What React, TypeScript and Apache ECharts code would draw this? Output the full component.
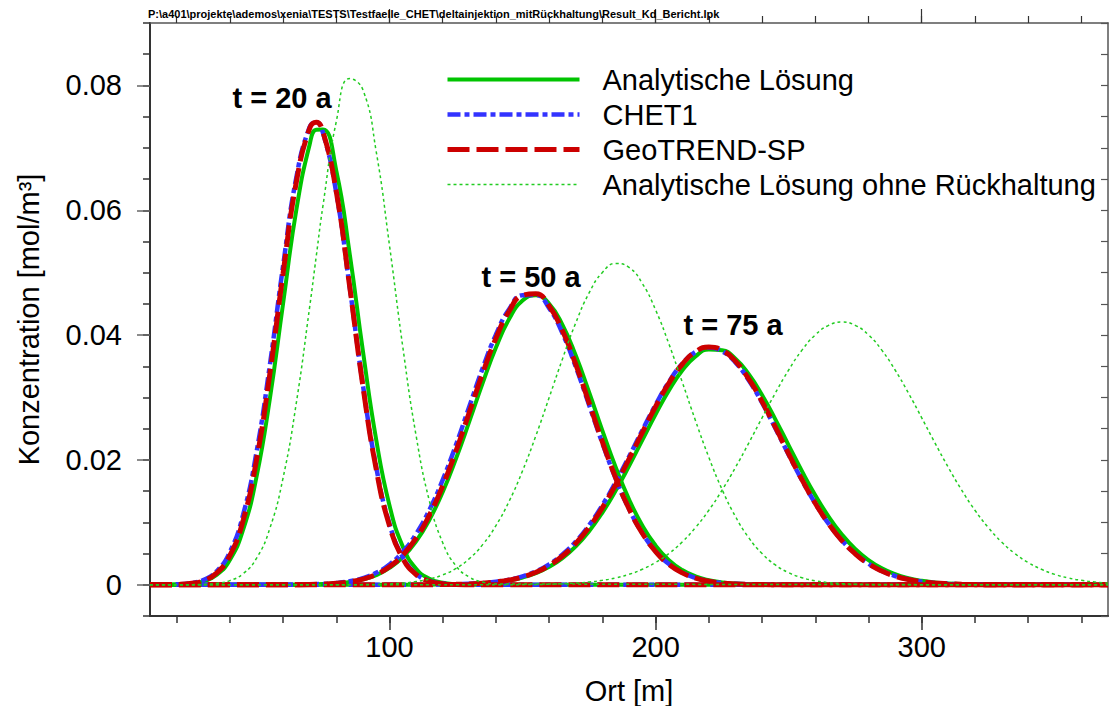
import React, { useEffect, useRef } from 'react';
import * as echarts from 'echarts';

// ---------- data ----------
const X20 = [10, 15, 20, 25, 30, 35, 40, 45, 50, 55, 60, 65, 70, 72.5, 75, 80, 85, 90, 95, 100, 105, 110, 115, 120, 125, 130, 135, 140, 370];
const analytic20 = [0, 0, 0.00005, 0.00017, 0.00055, 0.00157, 0.00397, 0.00882, 0.01725, 0.02971, 0.04503, 0.06008, 0.07055, 0.07289, 0.07293, 0.06636, 0.05315, 0.03747, 0.02326, 0.01271, 0.00611, 0.00258, 0.00096, 0.00032, 0.00009, 0.00002, 0, 0, 0];
const chet20 = [0, 0.00002, 0.00007, 0.00024, 0.00077, 0.00214, 0.00524, 0.01124, 0.02118, 0.03508, 0.05105, 0.06528, 0.07334, 0.07409, 0.0724, 0.06279, 0.04785, 0.03204, 0.01885, 0.00974, 0.00443, 0.00176, 0.00062, 0.00019, 0.00005, 0.00001, 0, 0, 0];
const geo20 = [0, 0.00001, 0.00005, 0.0002, 0.00064, 0.00186, 0.00468, 0.01032, 0.01994, 0.03369, 0.04985, 0.06454, 0.07315, 0.0741, 0.07257, 0.06301, 0.04789, 0.03186, 0.01855, 0.00946, 0.00422, 0.00165, 0.00056, 0.00017, 0.00004, 0.00001, 0, 0, 0];
const noRet20 = [0, 0, 0, 0.00002, 0.00007, 0.00022, 0.00067, 0.00178, 0.00422, 0.00899, 0.01711, 0.02918, 0.04451, 0.05272, 0.06075, 0.0742, 0.08109, 0.07931, 0.06941, 0.05436, 0.03809, 0.02389, 0.01341, 0.00673, 0.00302, 0.00122, 0.00044, 0.00014, 0];

const X50 = [10, 60, 65, 70, 75, 80, 85, 90, 95, 100, 105, 110, 115, 120, 125, 130, 135, 140, 145, 150, 155, 160, 165, 170, 175, 180, 185, 190, 195, 200, 205, 210, 215, 220, 225, 230, 235, 240, 245, 250, 255, 260, 265, 270, 275, 280, 370];
const analytic50 = [0, 0.00001, 0.00002, 0.00005, 0.00011, 0.00023, 0.00045, 0.00086, 0.00156, 0.0027, 0.00444, 0.00697, 0.01043, 0.01487, 0.02022, 0.02617, 0.03231, 0.03801, 0.04262, 0.04555, 0.04638, 0.04502, 0.04165, 0.03672, 0.03085, 0.02471, 0.01885, 0.01371, 0.0095, 0.00628, 0.00395, 0.00237, 0.00136, 0.00074, 0.00038, 0.00019, 0.00009, 0.00004, 0.00002, 0, 0, 0, 0, 0, 0, 0, 0];
const chet50 = [0, 0.00001, 0.00003, 0.00007, 0.00014, 0.00029, 0.00058, 0.00108, 0.00192, 0.00326, 0.00528, 0.00815, 0.01199, 0.01681, 0.02244, 0.02857, 0.03467, 0.04009, 0.04417, 0.0464, 0.04644, 0.0443, 0.04028, 0.0349, 0.02882, 0.02268, 0.01701, 0.01216, 0.00829, 0.00538, 0.00333, 0.00197, 0.0011, 0.00059, 0.0003, 0.00015, 0.00007, 0.00003, 0.00001, 0, 0, 0, 0, 0, 0, 0, 0];
const geo50 = [0, 0.00001, 0.00002, 0.00005, 0.00011, 0.00024, 0.00048, 0.00092, 0.00167, 0.00289, 0.00476, 0.00747, 0.01116, 0.01586, 0.02145, 0.02763, 0.03386, 0.0395, 0.04387, 0.04636, 0.04663, 0.04465, 0.04069, 0.0353, 0.02914, 0.0229, 0.01713, 0.0122, 0.00826, 0.00533, 0.00327, 0.00191, 0.00106, 0.00056, 0.00028, 0.00014, 0.00006, 0.00003, 0.00001, 0, 0, 0, 0, 0, 0, 0, 0];
const noRet50 = [0, 0, 0, 0, 0, 0.00001, 0.00001, 0.00003, 0.00007, 0.00014, 0.00027, 0.00051, 0.00091, 0.00158, 0.00262, 0.00419, 0.00643, 0.00948, 0.01342, 0.01826, 0.02388, 0.02999, 0.03619, 0.04196, 0.04675, 0.05004, 0.05146, 0.05085, 0.04827, 0.04403, 0.03858, 0.03249, 0.02628, 0.02042, 0.01525, 0.01094, 0.00754, 0.005, 0.00318, 0.00194, 0.00114, 0.00064, 0.00035, 0.00018, 0.00009, 0.00004, 0];

const X75 = [10, 110, 115, 120, 125, 130, 135, 140, 145, 150, 155, 160, 165, 170, 175, 180, 185, 190, 195, 200, 205, 210, 215, 220, 225, 230, 235, 240, 245, 250, 255, 260, 265, 270, 275, 280, 285, 290, 295, 300, 305, 310, 315, 320, 325, 330, 335, 340, 345, 350, 355, 360, 365, 370];
const analytic75 = [0, 0.00001, 0.00002, 0.00004, 0.00007, 0.00013, 0.00024, 0.00042, 0.00071, 0.00117, 0.00186, 0.00287, 0.00428, 0.00616, 0.00859, 0.01157, 0.01509, 0.01902, 0.02318, 0.02732, 0.03114, 0.03432, 0.03658, 0.0377, 0.03757, 0.03621, 0.03375, 0.03041, 0.02651, 0.02234, 0.0182, 0.01435, 0.01094, 0.00806, 0.00574, 0.00396, 0.00264, 0.0017, 0.00106, 0.00064, 0.00037, 0.00021, 0.00011, 0.00006, 0.00003, 0.00002, 0.00001, 0, 0, 0, 0, 0, 0, 0];
const chet75 = [0, 0.00001, 0.00002, 0.00004, 0.00008, 0.00016, 0.00028, 0.00049, 0.00083, 0.00136, 0.00215, 0.00328, 0.00485, 0.00692, 0.00955, 0.01275, 0.01645, 0.02052, 0.02474, 0.02884, 0.03251, 0.03542, 0.03731, 0.038, 0.03741, 0.03561, 0.03277, 0.02916, 0.02508, 0.02085, 0.01676, 0.01303, 0.00979, 0.00711, 0.00499, 0.00339, 0.00223, 0.00141, 0.00087, 0.00051, 0.00029, 0.00016, 0.00009, 0.00005, 0.00002, 0.00001, 0, 0, 0, 0, 0, 0, 0, 0];
const geo75 = [0, 0.00001, 0.00002, 0.00004, 0.00007, 0.00014, 0.00025, 0.00045, 0.00076, 0.00126, 0.00201, 0.00309, 0.00461, 0.00663, 0.00921, 0.01237, 0.01605, 0.02013, 0.02439, 0.02856, 0.03231, 0.03533, 0.03732, 0.03809, 0.03757, 0.03581, 0.03298, 0.02935, 0.02524, 0.02097, 0.01684, 0.01306, 0.0098, 0.00709, 0.00497, 0.00336, 0.0022, 0.00139, 0.00085, 0.0005, 0.00028, 0.00016, 0.00008, 0.00004, 0.00002, 0.00001, 0, 0, 0, 0, 0, 0, 0, 0];
const noRet75 = [0, 0, 0, 0, 0, 0, 0, 0.00001, 0.00002, 0.00003, 0.00005, 0.00009, 0.00016, 0.00027, 0.00045, 0.00071, 0.0011, 0.00167, 0.00248, 0.00357, 0.00501, 0.00686, 0.00917, 0.01194, 0.01518, 0.0188, 0.02271, 0.02675, 0.03072, 0.03441, 0.03759, 0.04003, 0.04157, 0.0421, 0.04157, 0.04003, 0.03759, 0.03441, 0.03072, 0.02675, 0.02271, 0.0188, 0.01518, 0.01194, 0.00917, 0.00686, 0.00501, 0.00357, 0.00248, 0.00167, 0.0011, 0.00071, 0.00045, 0.00027];

const seriesNames = ['Analytische Lösung', 'CHET1', 'GeoTREND-SP', 'Analytische Lösung ohne Rückhaltung'];
const timeLabels = ['t = 20 a', 't = 50 a', 't = 75 a'];

const xMinorTicks = [20, 40, 60, 80, 100, 120, 140, 160, 180, 200, 220, 240, 260, 280, 300, 320, 340, 360];
const xMajorTicks = [100, 200, 300];
const yMinorTicks = [-0.005, 0, 0.005, 0.01, 0.015, 0.02, 0.025, 0.03, 0.035, 0.04, 0.045, 0.05, 0.055, 0.06, 0.065, 0.07, 0.075, 0.08, 0.085, 0.09];
const yMajorTicks = [0, 0.02, 0.04, 0.06, 0.08];

const titleText = 'P:\\a401\\projekte\\ademos\\xenia\\TESTS\\Testfaelle_CHET\\deltainjektion_mitRückhaltung\\Result_Kd_Bericht.lpk';

// ---------- styling ----------
const FONT = '"Liberation Sans", Arial, Helvetica, sans-serif';
const AXIS_DARK = '#333333';
const AXIS_LIGHT = '#555555';

const styles = [
  { color: '#00c400', width: 4, type: 'solid' as any },
  { color: '#3333ff', width: 4.5, type: [13, 4, 5, 4] as any },
  { color: '#cc0000', width: 5, type: [22, 7] as any },
  { color: '#22cc22', width: 1.5, type: [3, 3] as any },
];

const groups = [
  [[X20, analytic20], [X50, analytic50], [X75, analytic75]],
  [[X20, chet20], [X50, chet50], [X75, chet75]],
  [[X20, geo20], [X50, geo50], [X75, geo75]],
  [[X20, noRet20], [X50, noRet50], [X75, noRet75]],
];

function buildOption() {
  const series: any[] = [];
  groups.forEach((sets, gi) => {
    sets.forEach(([xs, ys]) => {
      series.push({
        type: 'line',
        name: seriesNames[gi],
        xAxisIndex: 0,
        yAxisIndex: 0,
        data: (xs as number[]).map((x, i) => [x, (ys as number[])[i]]),
        showSymbol: false,
        symbol: 'none',
        smooth: 0.5,
        silent: true,
        lineStyle: { color: styles[gi].color, width: styles[gi].width, type: styles[gi].type },
        itemStyle: { color: styles[gi].color },
        emphasis: { disabled: true },
        z: 2 + gi,
      });
    });
  });

  const baseX: any = {
    type: 'value', min: 10, max: 370,
    splitLine: { show: false },
    axisLine: { show: false, onZero: false },
    axisLabel: { show: false },
    axisTick: { show: false },
  };
  const baseY: any = {
    type: 'value', min: -0.005, max: 0.09,
    splitLine: { show: false },
    axisLine: { show: false, onZero: false },
    axisLabel: { show: false },
    axisTick: { show: false },
  };

  const annPos = [[282, 98], [531, 277], [733, 325]];

  return {
    animation: false,
    backgroundColor: '#ffffff',
    title: {
      text: titleText,
      left: 148, top: 8,
      padding: 0,
      textStyle: { fontSize: 11, fontWeight: 'bold', color: '#000', fontFamily: FONT },
    },
    legend: {
      data: seriesNames.map((n, i) => ({
        name: n,
        lineStyle: { color: styles[i].color, width: styles[i].width, type: styles[i].type },
        itemStyle: { opacity: 0 },
      })),
      orient: 'vertical',
      left: 445, top: 65,
      padding: 0,
      itemWidth: 132, itemHeight: 14, itemGap: 6,
      selectedMode: false,
      itemStyle: { opacity: 0 },
      textStyle: { fontSize: 29, color: '#000', fontFamily: FONT, padding: [0, 0, 0, 18] },
    },
    grid: { left: 150, right: 3, top: 23, bottom: 90, containLabel: false, outerBoundsMode: 'none' },
    xAxis: [
      { ...baseX, position: 'bottom',
        axisLine: { show: true, onZero: false, lineStyle: { color: AXIS_DARK, width: 2 } },
        axisTick: { show: true, customValues: xMinorTicks, length: 7, lineStyle: { color: AXIS_DARK, width: 1.5 } } },
      { ...baseX, position: 'bottom',
        axisTick: { show: true, customValues: xMajorTicks, length: 14, lineStyle: { color: AXIS_DARK, width: 1.5 } },
        axisLabel: { show: true, customValues: xMajorTicks, fontSize: 29, color: '#000', margin: 16, fontFamily: FONT },
        name: 'Ort [m]', nameLocation: 'middle', nameGap: 60,
        nameTextStyle: { fontSize: 29, color: '#000', fontFamily: FONT } },
      { ...baseX, position: 'top',
        axisLine: { show: true, onZero: false, lineStyle: { color: AXIS_LIGHT, width: 1.5 } },
        axisTick: { show: true, customValues: xMinorTicks, length: 7, lineStyle: { color: AXIS_DARK, width: 1.2 } } },
      { ...baseX, position: 'top',
        axisTick: { show: true, customValues: xMajorTicks, length: 14, lineStyle: { color: AXIS_DARK, width: 1.2 } } },
    ],
    yAxis: [
      { ...baseY, position: 'left',
        axisLine: { show: true, onZero: false, lineStyle: { color: AXIS_DARK, width: 2 } },
        axisTick: { show: true, customValues: yMinorTicks, length: 7, lineStyle: { color: AXIS_DARK, width: 1.5 } } },
      { ...baseY, position: 'left',
        axisTick: { show: true, customValues: yMajorTicks, length: 13, lineStyle: { color: '#666', width: 1.5 } },
        axisLabel: { show: true, customValues: yMajorTicks, fontSize: 29, color: '#000', margin: 28, fontFamily: FONT,
          formatter: (v: number) => (v === 0 ? '0' : v.toFixed(2)) },
        name: 'Konzentration [mol/m³]', nameLocation: 'middle', nameGap: 107, nameRotate: 90,
        nameTextStyle: { fontSize: 29, color: '#000', fontFamily: FONT } },
      { ...baseY, position: 'right',
        axisLine: { show: true, onZero: false, lineStyle: { color: AXIS_LIGHT, width: 1.5 } },
        axisTick: { show: true, inside: true, customValues: yMinorTicks, length: 7, lineStyle: { color: AXIS_LIGHT, width: 1.2 } } },
    ],
    graphic: timeLabels.map((t, i) => ({
      type: 'text',
      x: annPos[i][0], y: annPos[i][1],
      z: 100,
      style: { text: t, fill: '#000', fontSize: 29, fontWeight: 'bold', fontFamily: FONT, align: 'center', verticalAlign: 'middle' },
    })),
    series,
  };
}

export default function App() {
  const ref = useRef<HTMLDivElement>(null);
  useEffect(() => {
    if (!ref.current) return;
    const chart = echarts.init(ref.current, null, { renderer: 'svg' });
    chart.setOption(buildOption() as any);
    return () => chart.dispose();
  }, []);
  return (
    <div
      ref={ref}
      style={{ position: 'absolute', left: 0, top: 0, width: 1111, height: 706, background: '#fff' }}
    />
  );
}
